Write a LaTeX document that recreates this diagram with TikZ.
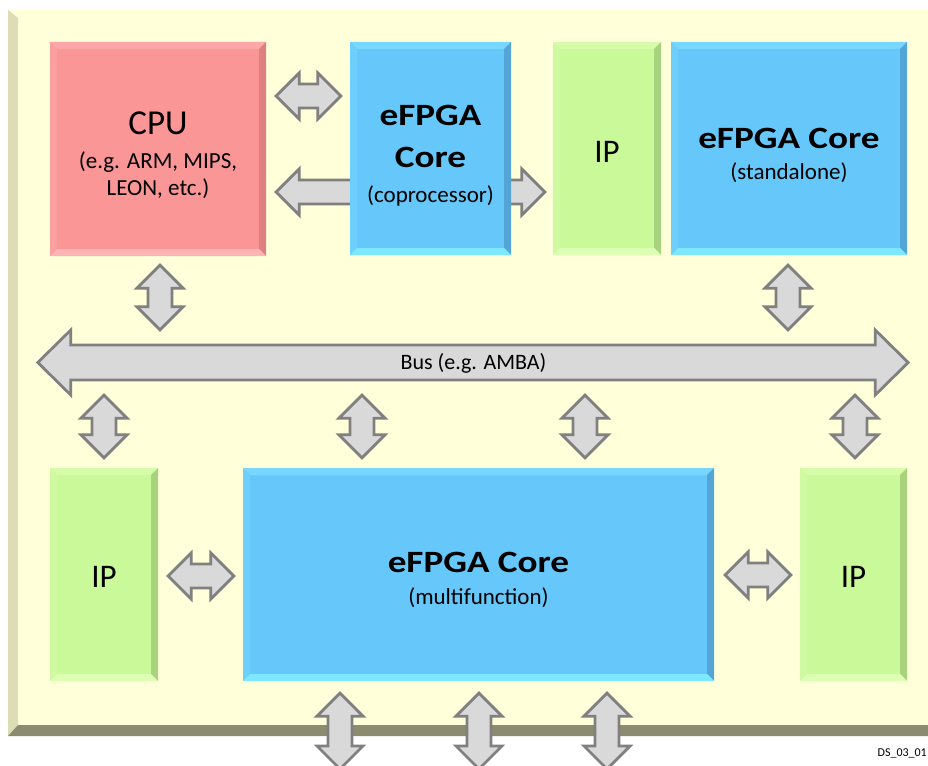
\documentclass[tikz,border=0pt]{standalone}
\usepackage{fontspec}
\setmainfont{Carlito}
\newfontfamily\titlefont{Carlito}[FakeStretch=1.2]
\usetikzlibrary{calc}
\definecolor{panel}{RGB}{255,255,217}
\definecolor{panelL}{RGB}{222,220,180}
\definecolor{panelB}{RGB}{139,139,112}
\definecolor{cpuM}{RGB}{250,150,150}
\definecolor{cpuT}{RGB}{252,168,168}
\definecolor{cpuD}{RGB}{222,128,128}
\definecolor{cpuB}{RGB}{253,180,180}
\definecolor{bluM}{RGB}{102,200,250}
\definecolor{bluT}{RGB}{120,214,255}
\definecolor{bluD}{RGB}{82,165,212}
\definecolor{bluB}{RGB}{125,232,255}
\definecolor{grnM}{RGB}{201,249,152}
\definecolor{grnT}{RGB}{214,252,170}
\definecolor{grnD}{RGB}{168,210,125}
\definecolor{grnB}{RGB}{220,255,180}
\definecolor{arrF}{RGB}{217,217,217}
\definecolor{arrD}{RGB}{128,128,128}
\tikzset{
  bevbox/.style n args={4}{draw=none, fill=#1, inner sep=0pt, path picture={
    \coordinate (bNW) at (path picture bounding box.north west);
    \coordinate (bNE) at (path picture bounding box.north east);
    \coordinate (bSW) at (path picture bounding box.south west);
    \coordinate (bSE) at (path picture bounding box.south east);
    \fill[#2] (bNW) -- (bNE) -- ([shift={(-7,7)}]bNE) -- ([shift={(7,7)}]bNW) -- cycle;
    \fill[#2!50!#1] (bNW) -- ([shift={(7,7)}]bNW) -- ([shift={(7,-7)}]bSW) -- (bSW) -- cycle;
    \fill[#3] (bNE) -- (bSE) -- ([shift={(-7,-7)}]bSE) -- ([shift={(-7,7)}]bNE) -- cycle;
    \fill[#4] (bSW) -- (bSE) -- ([shift={(-7,-7)}]bSE) -- ([shift={(7,-7)}]bSW) -- cycle;
  }},
  cpubox/.style={bevbox={cpuM}{cpuT}{cpuD}{cpuB}},
  blubox/.style={bevbox={bluM}{bluT}{bluD}{bluB}},
  grnbox/.style={bevbox={grnM}{grnT}{grnD}{grnB}},
  barrow/.style={fill=arrF, draw=arrD, line width=2.8pt, line join=miter},
  bigtxt/.style={font=\fontsize{35}{40}\selectfont, inner sep=0pt, anchor=base},
  iptxt/.style={font=\fontsize{33}{38}\selectfont, inner sep=0pt, anchor=base},
  ttltxt/.style={font=\titlefont\bfseries\fontsize{31}{36}\selectfont, inner sep=0pt, anchor=base},
  subtxt/.style={font=\fontsize{23}{27}\selectfont, inner sep=0pt, anchor=base},
}
\newcommand\AHL{23pt}
\newcommand\AHH{23pt}
\newcommand\ASH{12pt}
% horizontal block arrow: #1 left anchor, #2 gap, #3 right anchor, #4 gap, #5 y
\newcommand\hblock[5]{%
  \path[barrow] let \p1=(#1), \p2=(#3), \p3=(0,#5) in
    (\x1+#2,\y3) -- (\x1+#2+\AHL,\y3+\AHH) -- (\x1+#2+\AHL,\y3+\ASH)
    -- (\x2-#4-\AHL,\y3+\ASH) -- (\x2-#4-\AHL,\y3+\AHH) -- (\x2-#4,\y3)
    -- (\x2-#4-\AHL,\y3-\AHH) -- (\x2-#4-\AHL,\y3-\ASH)
    -- (\x1+#2+\AHL,\y3-\ASH) -- (\x1+#2+\AHL,\y3-\AHH) -- cycle;}
% vertical block arrow: #1 top anchor, #2 gap, #3 bottom anchor, #4 gap, #5 x
\newcommand\vblock[5]{%
  \path[barrow] let \p1=(#1), \p2=(#3), \p3=(#5,0) in
    (\x3,\y1-#2) -- (\x3+\AHH,\y1-#2-\AHL) -- (\x3+\ASH,\y1-#2-\AHL)
    -- (\x3+\ASH,\y2+#4+\AHL) -- (\x3+\AHH,\y2+#4+\AHL) -- (\x3,\y2+#4)
    -- (\x3-\AHH,\y2+#4+\AHL) -- (\x3-\ASH,\y2+#4+\AHL)
    -- (\x3-\ASH,\y1-#2-\AHL) -- (\x3-\AHH,\y1-#2-\AHL) -- cycle;}
\begin{document}
\begin{tikzpicture}[x=1pt, y=-1pt]
\useasboundingbox (0,0) rectangle (928,765);
\clip (0,0) rectangle (928,765);
\fill[white] (0,0) rectangle (928,765);
% panel
\fill[panel] (8,10) rectangle (928,736);
\fill[panelL] (8,10) -- (18,18) -- (18,725) -- (8,736) -- cycle;
\fill[panelB] (8,736) -- (18,725) -- (928,725) -- (928,736) -- cycle;

% boxes (named nodes; arrows drawn behind where needed)
\node[cpubox, minimum width=216pt, minimum height=214pt] (cpu) at (158,149) {};
\node[grnbox, minimum width=108pt, minimum height=213pt] (ipt) at (607,148.5) {};
\node[blubox, minimum width=236pt, minimum height=213pt] (sta) at (789,148.5) {};
\node[grnbox, minimum width=108pt, minimum height=213pt] (ipl) at (104,574.5) {};
\node[blubox, minimum width=471pt, minimum height=213pt] (mul) at (478.5,574.5) {};
\node[grnbox, minimum width=107pt, minimum height=213pt] (ipr) at (853.5,574.5) {};
\path node[minimum width=870pt, minimum height=65pt, inner sep=0pt] (bus) at (473,362.5) {};
\coordinate (exitA) at (340,769);
\coordinate (exitB) at (479,769);
\coordinate (exitC) at (607,769);

% long arrow CPU <-> IP, behind the coprocessor
\hblock{cpu.east}{10pt}{ipt.west}{8pt}{192}
\node[blubox, minimum width=161pt, minimum height=213pt] (cop) at (430.5,148.5) {};
\hblock{cpu.east}{10pt}{cop.west}{9pt}{96}

% bus
{\renewcommand\AHL{33pt}\renewcommand\AHH{32.5pt}\renewcommand\ASH{17.5pt}%
 \hblock{bus.west}{0pt}{bus.east}{0pt}{362.5}}
\node[font=\fontsize{22}{26}\selectfont, inner sep=0pt, anchor=base] (busT) at (473.5,369) {Bus (e.g. AMBA)};

% vertical arrows
\vblock{cpu.south}{9pt}{bus.north}{0pt}{160}
\vblock{sta.south}{10pt}{bus.north}{0pt}{788}
\vblock{bus.south}{0pt}{ipl.north}{10pt}{104}
\vblock{bus.south}{0pt}{mul.north}{10pt}{362}
\vblock{bus.south}{0pt}{mul.north}{10pt}{585}
\vblock{bus.south}{0pt}{ipr.north}{10pt}{855}
\vblock{mul.south}{12pt}{exitA}{0pt}{340}
\vblock{mul.south}{12pt}{exitB}{0pt}{479}
\vblock{mul.south}{12pt}{exitC}{0pt}{607}

% bottom horizontal arrows
\hblock{ipl.east}{10pt}{mul.west}{9pt}{576}
\hblock{mul.east}{11pt}{ipr.west}{9pt}{575}

% texts
\node[bigtxt] (cpuT) at (158,135) {CPU};
\node[subtxt] (cpuS1) at (158,168) {(e.g. ARM, MIPS,};
\node[subtxt] (cpuS2) at (158,195) {LEON, etc.)};
\node[ttltxt] (copT1) at (430.5,125) {eFPGA};
\node[ttltxt] (copT2) at (430.5,167) {Core};
\node[subtxt] (copS) at (430.5,202) {(coprocessor)};
\node[iptxt] (iptT) at (607,162) {IP};
\node[ttltxt] (staT) at (789,148) {eFPGA Core};
\node[subtxt] (staS) at (789,179) {(standalone)};
\node[ttltxt] (mulT) at (478.5,572) {eFPGA Core};
\node[subtxt] (mulS) at (478.5,604) {(multifunction)};
\node[iptxt] (iplT) at (104,587) {IP};
\node[iptxt] (iprT) at (853.5,587) {IP};
\node[font=\fontsize{12}{14}\selectfont, inner sep=0pt, anchor=base east] (ds) at (927,756) {DS\_03\_01};
\end{tikzpicture}
\end{document}
